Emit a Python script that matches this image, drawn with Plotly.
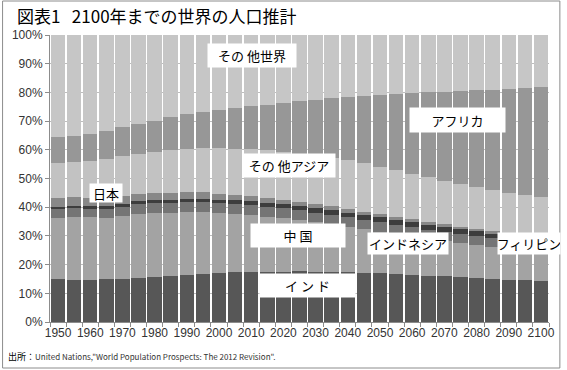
import plotly.graph_objects as go

years = list(range(1950, 2101, 5))

# Shares of world population (%), UN WPP 2012 (medium variant), read/estimated
india = [14.9, 14.7, 14.8, 14.9, 15.0, 15.3, 15.8, 16.2, 16.4, 16.7, 17.0, 17.3, 17.5, 17.5, 17.5, 17.6,
         17.5, 17.5, 17.3, 17.2, 17.0, 16.7, 16.5, 16.2, 15.9, 15.6, 15.3, 15.0, 14.7, 14.5, 14.3]
china = [21.5, 22.0, 21.7, 21.5, 22.1, 22.5, 22.2, 21.8, 22.0, 21.7, 20.9, 20.3, 19.7, 19.1, 18.6, 17.9,
         17.2, 16.5, 15.8, 15.1, 14.5, 13.9, 13.4, 12.8, 12.4, 11.9, 11.5, 11.1, 10.7, 10.4, 10.0]
indonesia = [2.9, 2.9, 2.9, 3.0, 3.1, 3.2, 3.3, 3.4, 3.4, 3.4, 3.5, 3.5, 3.5, 3.5, 3.5, 3.5,
             3.4, 3.4, 3.4, 3.4, 3.4, 3.3, 3.3, 3.2, 3.2, 3.1, 3.1, 3.0, 3.0, 2.9, 2.9]
philippines = [0.74, 0.79, 0.87, 0.93, 0.97, 1.03, 1.07, 1.12, 1.17, 1.22, 1.27, 1.32, 1.35, 1.38, 1.41, 1.44,
               1.47, 1.50, 1.54, 1.60, 1.64, 1.65, 1.67, 1.69, 1.70, 1.71, 1.72, 1.73, 1.74, 1.73, 1.73]
japan = [3.25, 3.24, 3.10, 2.97, 2.82, 2.74, 2.63, 2.49, 2.33, 2.19, 2.07, 1.96, 1.85, 1.73, 1.62, 1.52,
         1.43, 1.35, 1.27, 1.20, 1.13, 1.07, 1.02, 0.97, 0.93, 0.90, 0.87, 0.84, 0.82, 0.80, 0.78]
asia_total = [55.3, 55.6, 56.2, 56.9, 57.9, 58.6, 59.3, 59.8, 60.4, 60.6, 60.5, 60.4, 60.2, 59.8, 59.3, 58.7,
              58.0, 57.2, 56.3, 55.3, 54.1, 52.9, 51.7, 50.5, 49.3, 48.1, 47.0, 45.9, 44.9, 44.1, 43.4]
africa = [9.1, 9.2, 9.4, 9.7, 9.9, 10.3, 10.9, 11.5, 12.0, 12.7, 13.4, 14.2, 15.0, 15.9, 17.0, 18.2,
          19.4, 20.7, 22.0, 23.4, 25.1, 26.5, 28.1, 29.5, 31.0, 32.5, 33.8, 35.1, 36.3, 37.4, 38.6]

other_asia = [round(a - i - c - d - p - j, 2) for a, i, c, d, p, j in
              zip(asia_total, india, china, indonesia, philippines, japan)]
other_world = [round(100 - a - f, 2) for a, f in zip(asia_total, africa)]

series_names = ["インド", "中国", "インドネシア", "フィリピン", "日本", "その他アジア", "アフリカ", "その他世界"]
series_values = [india, china, indonesia, philippines, japan, other_asia, africa, other_world]
series_colors = ["#575757", "#a3a3a3", "#757575", "#3d3d3d", "#888888", "#c2c2c2", "#979797", "#c6c6c6"]

x_tick_years = list(range(1950, 2101, 10))

fig = go.Figure()
for name, vals, col in zip(series_names, series_values, series_colors):
    fig.add_trace(go.Bar(
        x=years, y=[v / 100 for v in vals], name=name,
        marker=dict(color=col, line=dict(width=0)),
        width=4.5, showlegend=False, hoverinfo="skip",
    ))

W, H = 567, 370
L, R, T, B = 49, 13, 35, 48
PW, PH = W - L - R, H - T - B


def px(xp):
    return (xp - L) / PW


def py(yp):
    return (H - B - yp) / PH


label_font = dict(family="Noto Sans CJK JP", size=13, color="#000000")
boxes = [
    ("その 他世界", 253, 56, 88, 23),
    ("その 他アジア", 291, 165, 92, 23),
    ("日本", 106, 193, 32, 18),
    ("中 国", 300, 235, 94, 23),
    ("イ ン ド", 310, 285, 95, 23),
    ("インドネシア", 411, 243, 80, 21),
    ("フィリピン", 534, 243, 62, 21),
    ("アフリカ", 461, 120, 95, 24),
]
annotations = []
for text, cx, cy, w, h in boxes:
    annotations.append(dict(
        text=text, x=px(cx), y=py(cy), xref="paper", yref="paper",
        xanchor="center", yanchor="middle", showarrow=False,
        width=w, height=h, bgcolor="#ffffff", borderpad=0, font=label_font,
    ))

annotations.append(dict(
    text="図表1\u00a0\u00a0\u00a02100年までの世界の人口推計", x=px(14), y=py(14.5), xref="paper", yref="paper",
    xanchor="left", yanchor="middle", showarrow=False, height=20,
    font=dict(family="Noto Sans CJK JP", size=17, color="#000000"),
))
annotations.append(dict(
    text="出所：<span style='font-size:8px;color:#333333'>United Nations,\"World Population Prospects: The 2012 Revision\".</span>",
    x=px(4), y=py(356), xref="paper", yref="paper",
    xanchor="left", yanchor="middle", showarrow=False,
    font=dict(family="Noto Sans CJK JP", size=9, color="#000000"),
))

fig.update_layout(
    width=W, height=H,
    margin=dict(l=L, r=R, t=T, b=B),
    paper_bgcolor="#ffffff", plot_bgcolor="#ffffff",
    barmode="stack",
    annotations=annotations,
    shapes=[dict(type="rect", xref="paper", yref="paper",
                 x0=px(1), x1=px(W - 2), y0=py(H - 2), y1=py(1),
                 line=dict(color="#8c8c8c", width=1), fillcolor="rgba(0,0,0,0)", layer="below")],
    font=dict(family="Noto Sans CJK JP", color="#404040"),
)
fig.update_xaxes(
    range=[1947.5, 2102.5], tickmode="array", tickvals=x_tick_years,
    ticktext=[str(y) for y in x_tick_years], ticks="",
    showline=True, linecolor="#8c8c8c", linewidth=1, showgrid=False, zeroline=False,
    tickfont=dict(family="Liberation Sans", size=12, color="#333333"),
    minor=dict(tickmode="linear", tick0=1947.5, dtick=5, ticks="outside", ticklen=4,
               tickcolor="#8c8c8c", showgrid=False),
)
fig.update_yaxes(
    range=[0, 1], tickmode="linear", tick0=0, dtick=0.1, tickformat=".0%",
    ticks="outside", ticklen=4, tickcolor="#8c8c8c",
    showline=True, linecolor="#8c8c8c", linewidth=1,
    showgrid=True, gridcolor="#bdbdbd", gridwidth=1, zeroline=False,
    tickfont=dict(family="Liberation Sans", size=12, color="#333333"),
)

fig.write_html("out.html", config={"displayModeBar": False},
               post_script="document.body.style.margin='0';document.body.style.overflow='hidden';")
